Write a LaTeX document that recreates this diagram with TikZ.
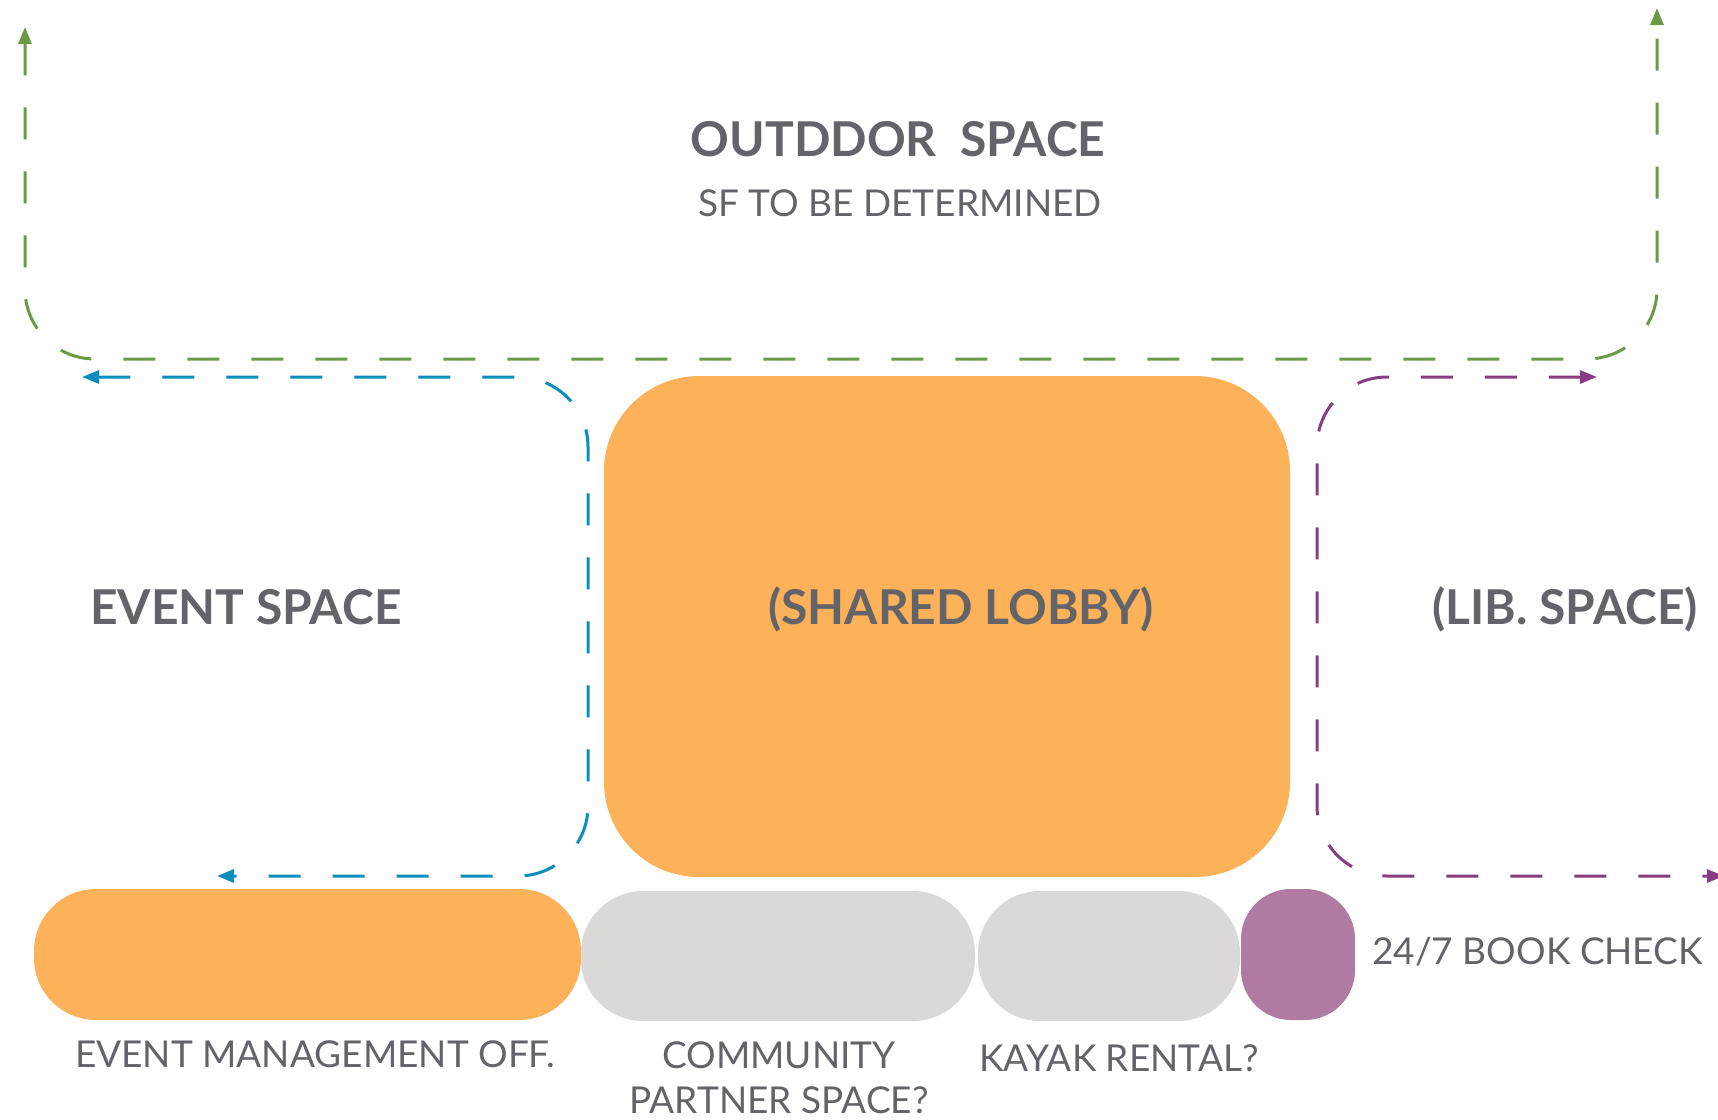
\documentclass[tikz,border=0pt]{standalone}
\usepackage{fontspec}
\setmainfont{Lato}
\usetikzlibrary{arrows.meta}
\definecolor{txtgray}{HTML}{636469}
\definecolor{orangef}{HTML}{FDB25A}
\definecolor{grayf}{HTML}{DAD9D7}
\definecolor{purplef}{HTML}{B07AA2}
\definecolor{greenl}{HTML}{6B9A47}
\definecolor{bluel}{HTML}{0B8EB9}
\definecolor{purplel}{HTML}{8A3C82}
\tikzset{
  bold/.style={text=txtgray, font=\fontsize{48}{55}\selectfont\bfseries, inner sep=0pt, anchor=base},
  reg/.style={text=txtgray, font=\fontsize{37}{42}\selectfont, inner sep=0pt, anchor=base},
  bound/.style={line width=3pt, dash pattern=on 32pt off 32pt, rounded corners=70pt, {Triangle[length=17pt,width=13pt]}-{Triangle[length=17pt,width=13pt]}},
  block/.style={inner sep=0pt, draw=none}
}
\begin{document}
\begin{tikzpicture}[x=1pt,y=-1pt]
\useasboundingbox (0,0) rectangle (1718,1119);
% boundary coordinates
\coordinate (g1) at (25,27);
\coordinate (g2) at (25,359);
\coordinate (g3) at (1657,359);
\coordinate (g4) at (1657,8);
\coordinate (b1) at (82,377);
\coordinate (b2) at (588,377);
\coordinate (b3) at (588,876);
\coordinate (b4) at (217,876);
\coordinate (p1) at (1597,377);
\coordinate (p2) at (1317,377);
\coordinate (p3) at (1317,876);
\coordinate (p4) at (1724,876);
\draw[bound, greenl] (g1) -- (g2) -- (g3) -- (g4);
\draw[bound, bluel] (b1) -- (b2) -- (b3) -- (b4);
\draw[bound, purplel] (p1) -- (p2) -- (p3) -- (p4);
% blocks
\node[block, fill=orangef, rounded corners=95pt, minimum width=686pt, minimum height=501pt] (lobby) at (947,626.5) {};
\node[block, fill=orangef, rounded corners=62pt, minimum width=547pt, minimum height=131pt] (evm) at (307.5,954.5) {};
\node[block, fill=grayf, rounded corners=62pt, minimum width=394pt, minimum height=130pt] (comm) at (778,956) {};
\node[block, fill=grayf, rounded corners=62pt, minimum width=262pt, minimum height=130pt] (kayak) at (1109,956) {};
\node[block, fill=purplef, rounded corners=50pt, minimum width=114pt, minimum height=131pt] (book) at (1298,954.5) {};
% texts
\node[bold] (t1) at (898,156) {OUTDDOR~~SPACE};
\node[reg] (t2) at (900,216) {SF TO BE DETERMINED};
\node[bold, anchor=base west] (t3) at (90,624) {EVENT SPACE};
\node[bold] (t4) at (961,624) {(SHARED LOBBY)};
\node[bold] (t5) at (1565,624) {(LIB. SPACE)};
\node[reg, anchor=base west] (t6) at (1372,964) {24/7 BOOK CHECK};
\node[reg] (t7) at (315,1067) {EVENT MANAGEMENT OFF.};
\node[reg] (t8) at (779,1068) {COMMUNITY};
\node[reg] (t9) at (779,1113) {PARTNER SPACE?};
\node[reg] (t10) at (1119,1071) {KAYAK RENTAL?};
\end{tikzpicture}
\end{document}
